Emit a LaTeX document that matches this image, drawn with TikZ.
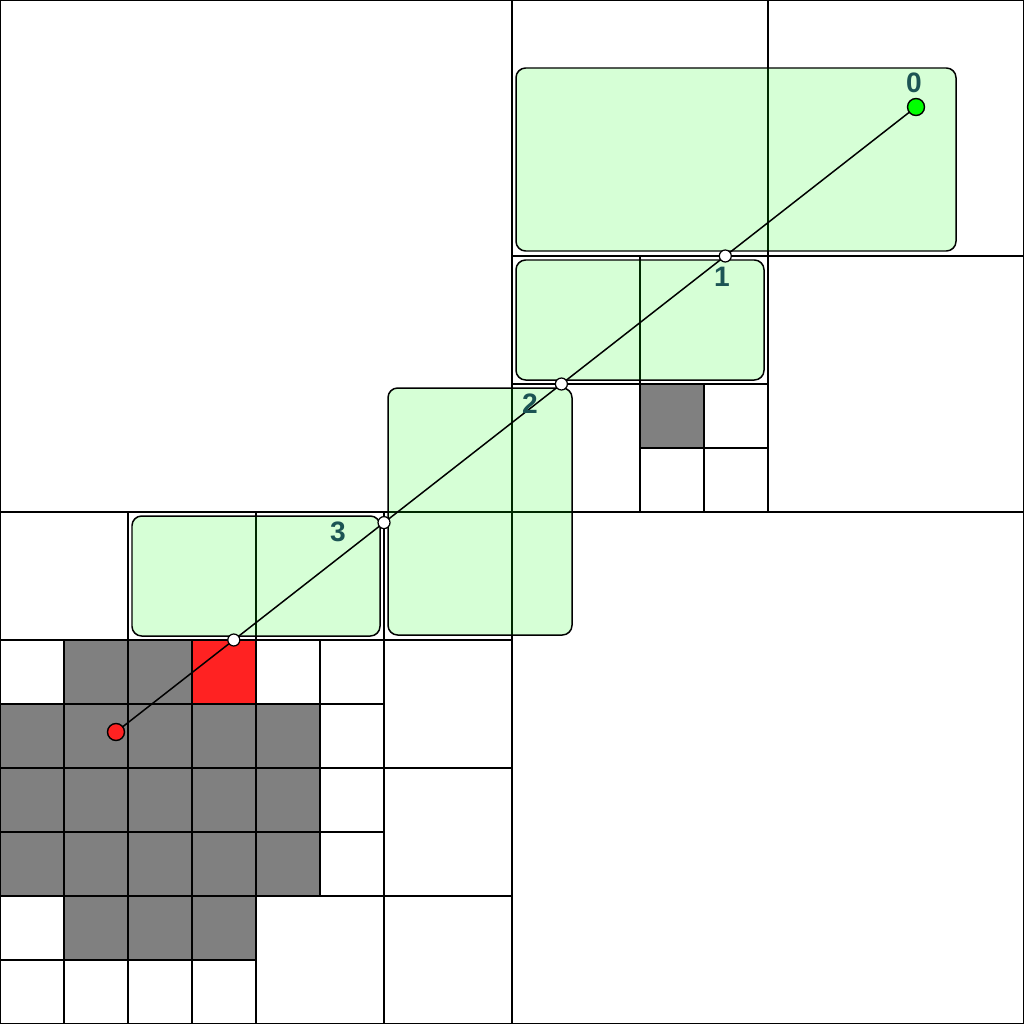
\documentclass[tikz,border=0pt]{standalone}
\usepackage{fontspec}
\setmainfont{Liberation Sans}
\usepackage{tikz}

\definecolor{lblcol}{RGB}{28,84,84}
\definecolor{occcol}{RGB}{128,128,128}
\definecolor{hitcol}{RGB}{255,34,34}

\tikzset{
  cell/.style={draw=black, line width=1.1pt},
  leafbox/.style={draw=black, line width=0.85pt, fill=green, fill opacity=0.16, rounded corners=5.5pt},
  cross/.style={draw=black, fill=white, line width=0.7pt},
  lbl/.style={text=lblcol, font=\fontsize{16}{16}\selectfont\bfseries, inner sep=0pt}
}

\begin{document}
\begin{tikzpicture}[x=0.02cm, y=-0.02cm]
  \useasboundingbox (0,0) rectangle (1024,1024);
  \fill[white] (0,0) rectangle (1024,1024);

  % occupied cells
  \foreach \i/\j in {1/10, 2/10, 0/11, 1/11, 2/11, 3/11, 4/11, 0/12, 1/12, 2/12, 3/12, 4/12,
                     0/13, 1/13, 2/13, 3/13, 4/13, 1/14, 2/14, 3/14, 10/6}
    \fill[occcol] (64*\i,64*\j) rectangle ++(64,64);
  \fill[hitcol] (192,640) rectangle ++(64,64);

  % quadtree leaves
  \foreach \x/\y/\s in {0/0/512, 512/512/512, 512/0/256, 768/0/256, 768/256/256,
                        512/256/128, 640/256/128, 512/384/128, 0/512/128, 128/512/128,
                        256/512/128, 384/512/128, 384/640/128, 384/768/128, 256/896/128, 384/896/128}
    \draw[cell] (\x,\y) rectangle ++(\s,\s);
  \foreach \i in {0,...,5}
    \foreach \j in {10,...,13}
      \draw[cell] (64*\i,64*\j) rectangle ++(64,64);
  \foreach \i in {0,...,3}
    \foreach \j in {14,15}
      \draw[cell] (64*\i,64*\j) rectangle ++(64,64);
  \foreach \i/\j in {10/6, 11/6, 10/7, 11/7}
    \draw[cell] (64*\i,64*\j) rectangle ++(64,64);

  % visited leaves along the ray
  \draw[leafbox] (516,68) rectangle (956,251);
  \draw[leafbox] (516,260) rectangle (764,380);
  \draw[leafbox] (388,388) rectangle (572,635);
  \draw[leafbox] (132,516) rectangle (380,636);

  % ray
  \coordinate (src) at (116,732);
  \coordinate (dst) at (916,107);
  \draw[line width=0.85pt] (src) -- (dst);
  \foreach \p in {(725.3,256), (561.4,384), (384,522.6), (233.8,640)}
    \draw[cross] \p circle (6);
  \draw[fill=hitcol, line width=0.8pt] (src) circle (8.5);
  \draw[fill=green, line width=0.8pt] (dst) circle (8.5);

  % step labels
  \node[lbl] (s0) at (914,83) {0};
  \node[lbl] (s1) at (722,277) {1};
  \node[lbl] (s2) at (530,404) {2};
  \node[lbl] (s3) at (338,532) {3};
\end{tikzpicture}
\end{document}
